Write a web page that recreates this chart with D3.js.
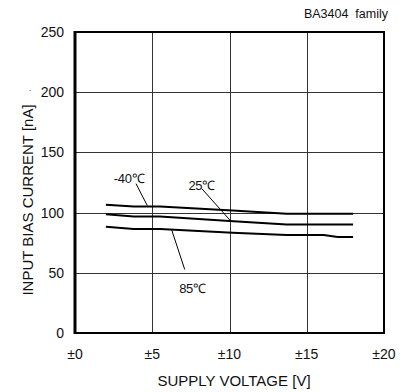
<!DOCTYPE html>
<html>
<head>
<meta charset="utf-8">
<script src="https://cdn.jsdelivr.net/npm/d3@7"></script>
<style>
  body { margin: 0; background: #fff; }
  svg { display: block; font-family: "Liberation Sans", Arial, sans-serif; }
  text { fill: #111; }
</style>
</head>
<body>
<div id="chart"></div>
<script>
// data
var voltsM40 = [2, 3.8, 5.5, 10.2, 13.7, 18];
var biasM40  = [106.5, 105, 105, 101.7, 99, 99];
var volts25  = [2, 3.8, 5.5, 10, 13.7, 18];
var bias25   = [98.7, 96.7, 96.7, 93, 90.2, 90.2];
var volts85  = [2, 3.8, 5.5, 10.2, 13.7, 16.1, 17, 18];
var bias85   = [88.3, 86.4, 86.4, 83.3, 81.4, 81.4, 79.7, 79.7];

var xTicks = [0, 5, 10, 15, 20];
var xTickLabels = ["±0", "±5", "±10", "±15", "±20"];
var yTicks = [0, 50, 100, 150, 200, 250];

// curve labels with their leader lines (label pos, line from -> to), in data units
var labels = [
    {text: "-40℃", lx: 3.5, ly: 124.5, x1: 3.95, y1: 124, x2: 4.68, y2: 105.8},
    {text: "25℃",  lx: 8.2, ly: 119,   x1: 8.2,  y1: 120, x2: 10.08, y2: 93},
    {text: "85℃",  lx: 7.6, ly: 33,    x1: 6.26, y1: 85.6, x2: 7.1, y2: 52.8}
];

var width = 416, height = 392;
var svg = d3.select("#chart").append("svg")
    .attr("width", width)
    .attr("height", height);

var x = d3.scaleLinear().domain([0, 20]).range([75, 384]);
var y = d3.scaleLinear().domain([0, 250]).range([333, 32]);

// grid lines
svg.selectAll("line.vgrid").data(xTicks.slice(1, -1))
    .enter().append("line")
    .attr("class", "vgrid")
    .attr("x1", function(d){ return Math.round(x(d)) + 0.5; })
    .attr("x2", function(d){ return Math.round(x(d)) + 0.5; })
    .attr("y1", y(250)).attr("y2", y(0))
    .attr("stroke", "#333").attr("stroke-width", 1);

svg.selectAll("line.hgrid").data(yTicks.slice(1, -1))
    .enter().append("line")
    .attr("class", "hgrid")
    .attr("x1", x(0)).attr("x2", x(20))
    .attr("y1", function(d){ return Math.round(y(d)) + 0.5; })
    .attr("y2", function(d){ return Math.round(y(d)) + 0.5; })
    .attr("stroke", "#333").attr("stroke-width", 1);

// frame
svg.append("rect")
    .attr("x", x(0)).attr("y", y(250))
    .attr("width", x(20) - x(0)).attr("height", y(0) - y(250))
    .attr("fill", "none").attr("stroke", "#000").attr("stroke-width", 2);
svg.append("line")
    .attr("x1", x(0)).attr("x2", x(0))
    .attr("y1", y(250) - 1).attr("y2", y(0) + 1)
    .attr("stroke", "#000").attr("stroke-width", 3);

// tick labels
svg.selectAll("text.ytick").data(yTicks)
    .enter().append("text")
    .attr("class", "ytick")
    .attr("x", 64)
    .attr("y", function(d){ return y(d) + 5; })
    .attr("text-anchor", "end")
    .attr("font-size", 14)
    .text(function(d){ return d; });

svg.selectAll("text.xtick").data(xTicks)
    .enter().append("text")
    .attr("class", "xtick")
    .attr("x", function(d){ return x(d); })
    .attr("y", 359)
    .attr("text-anchor", "middle")
    .attr("font-size", 14)
    .text(function(d, i){ return xTickLabels[i]; });

// axis titles
svg.append("text")
    .attr("x", 234).attr("y", 386)
    .attr("text-anchor", "middle")
    .attr("font-size", 15)
    .text("SUPPLY VOLTAGE [V]");

svg.append("text")
    .attr("transform", "translate(33,200) rotate(-90)")
    .attr("text-anchor", "middle")
    .attr("font-size", 15)
    .text("INPUT BIAS CURRENT [nA]");

svg.append("text")
    .attr("x", 29).attr("y", 91)
    .attr("font-size", 8)
    .text(".");

svg.append("text")
    .attr("x", 388).attr("y", 18)
    .attr("text-anchor", "end")
    .attr("font-size", 12.5)
    .attr("xml:space", "preserve")
    .style("white-space", "pre")
    .text("BA3404  family");

// curves
var line = d3.line()
    .x(function(d){ return x(d[0]); })
    .y(function(d){ return y(d[1]); });

var series = [
    d3.zip(voltsM40, biasM40),
    d3.zip(volts25, bias25),
    d3.zip(volts85, bias85)
];

svg.selectAll("path.curve").data(series)
    .enter().append("path")
    .attr("class", "curve")
    .attr("d", line)
    .attr("fill", "none")
    .attr("stroke", "#000")
    .attr("stroke-width", 2);

// labels and leaders
svg.selectAll("line.leader").data(labels)
    .enter().append("line")
    .attr("class", "leader")
    .attr("x1", function(d){ return x(d.x1); })
    .attr("y1", function(d){ return y(d.y1); })
    .attr("x2", function(d){ return x(d.x2); })
    .attr("y2", function(d){ return y(d.y2); })
    .attr("stroke", "#000").attr("stroke-width", 1);

svg.selectAll("text.curvelabel").data(labels)
    .enter().append("text")
    .attr("class", "curvelabel")
    .attr("x", function(d){ return x(d.lx); })
    .attr("y", function(d){ return y(d.ly); })
    .attr("text-anchor", "middle")
    .attr("font-size", 13)
    .attr("letter-spacing", -0.3)
    .text(function(d){ return d.text; });
</script>
</body>
</html>
